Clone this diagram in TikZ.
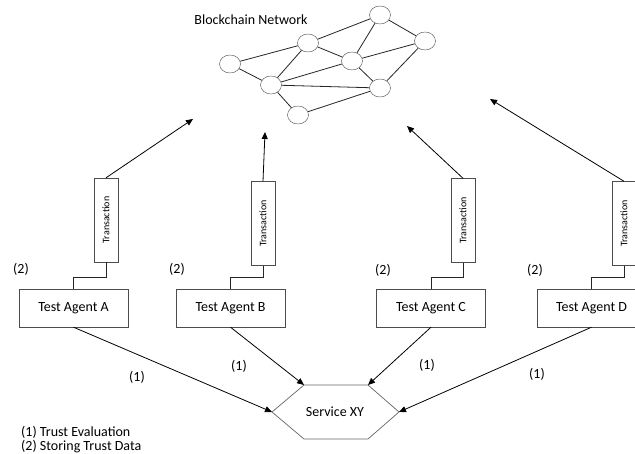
\documentclass[tikz,border=0pt]{standalone}
\usepackage{fontspec}
\setmainfont{Carlito}
\usetikzlibrary{arrows.meta,positioning,shapes.geometric}

\tikzset{
  agent/.style={draw=black!70, minimum width=109pt, minimum height=38pt, inner sep=0pt, font=\fontsize{14}{16}\selectfont},
  txbox/.style={draw=black!70, rotate=90, minimum width=84pt, minimum height=24pt, inner sep=0pt, font=\fontsize{10}{12}\selectfont},
  peer/.style={draw=black!70, ellipse, minimum width=21pt, minimum height=18pt, inner sep=0pt, fill=white},
  tag/.style={font=\fontsize{14}{16}\selectfont, inner sep=0pt},
  link/.style={black!85, line width=0.8pt},
  flow/.style={-{Triangle[length=7pt,width=6pt]}, line width=0.8pt},
}

\begin{document}
\begin{tikzpicture}[x=1pt, y=-1pt]
  \fill[white] (0,0) rectangle (635,454);
  \clip (0,0) rectangle (635,454);

  % blockchain network
  \node[tag] (title) at (251,20) {Blockchain Network};
  \node[peer] (p1) at (380,15) {};
  \node[peer] (p2) at (425,41) {};
  \node[peer] (p3) at (308,43) {};
  \node[peer] (p4) at (352,61) {};
  \node[peer] (p5) at (230,64) {};
  \node[peer] (p6) at (271,85) {};
  \node[peer] (p7) at (380,88) {};
  \node[peer] (p8) at (298,115) {};
  \foreach \a/\b in {p5/p3, p3/p1, p1/p2, p1/p4, p3/p4, p4/p2, p3/p6, p5/p6,
                     p6/p4, p6/p7, p4/p7, p2/p7, p6/p8, p8/p7}
    \draw[link] (\a) -- (\b);

  % test agents
  \node[agent] (A) at (73.5,308) {Test Agent A};
  \node[agent] (B) at (230.5,308) {Test Agent B};
  \node[agent] (C) at (431,308) {Test Agent C};
  \node[agent] (D) at (591.5,308) {Test Agent D};

  % transactions (rotated, so east is the top)
  \node[txbox] (tA) at (106,220) {Transaction};
  \node[txbox] (tB) at (263,223.5) {Transaction};
  \node[txbox] (tC) at (463,220.5) {Transaction};
  \node[txbox] (tD) at (624,223.5) {Transaction};

  \draw[link] (A.north) -- ++(0,-11) -| (tA.west);
  \draw[link] (B.north) -- ++(0,-11) -| (tB.west);
  \draw[link] (C.north) -- ++(0,-11) -| (tC.west);
  \draw[link] (D.north) -- ++(0,-11) -| (tD.west);

  \coordinate (eA) at (193,119);
  \coordinate (eB) at (265,132);
  \coordinate (eC) at (407,126);
  \coordinate (eD) at (490,99);
  \draw[flow] (tA.east) -- (eA);
  \draw[flow] (tB.east) -- (eB);
  \draw[flow] (tC.east) -- (eC);
  \draw[flow] (tD.east) -- (eD);

  \node[tag] (sA) at (21,269) {(2)};
  \node[tag] (sB) at (177,269) {(2)};
  \node[tag] (sC) at (383,270) {(2)};
  \node[tag] (sD) at (535,270) {(2)};

  % service
  \coordinate (hW) at (272,412);
  \coordinate (hNW) at (304,385);
  \coordinate (hNE) at (368,385);
  \coordinate (hE) at (399,412);
  \coordinate (hSE) at (368,439);
  \coordinate (hSW) at (304,439);
  \draw[black!60, line width=0.7pt] (hW) -- (hNW) -- (hNE) -- (hE) -- (hSE) -- (hSW) -- cycle;
  \node[tag] (svc) at (335,412) {Service XY};

  \draw[flow] (A.south) -- (hW);
  \draw[flow] (B.south) -- (hNW);
  \draw[flow] (C.south) -- (hNE);
  \draw[flow] (D.south) -- (hE);

  \node[tag] (eva) at (137,377) {(1)};
  \node[tag] (evb) at (239,366) {(1)};
  \node[tag] (evc) at (427,365) {(1)};
  \node[tag] (evd) at (537,374) {(1)};

  % legend
  \node[tag, anchor=west] (leg1) at (21,432) {(1) Trust Evaluation};
  \node[tag, anchor=west] (leg2) at (21,447) {(2) Storing Trust Data};
\end{tikzpicture}
\end{document}
